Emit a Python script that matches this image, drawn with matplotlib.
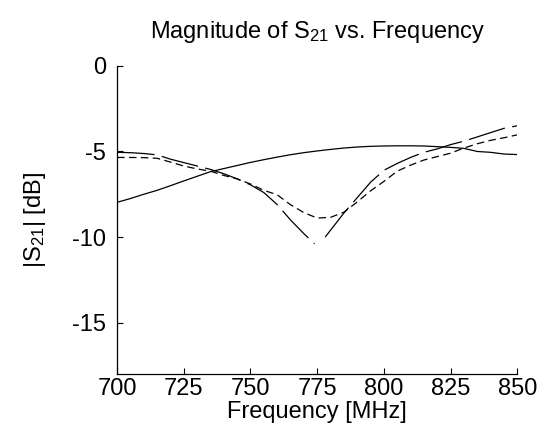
import numpy as np
import matplotlib
matplotlib.use("Agg")
import matplotlib.pyplot as plt

plt.rcParams['font.family'] = ['Liberation Sans', 'DejaVu Sans']
plt.rcParams['mathtext.fontset'] = 'custom'
plt.rcParams['mathtext.rm'] = 'Liberation Sans'
plt.rcParams['mathtext.it'] = 'Liberation Sans'

freq = [700, 705, 710, 715, 720, 725, 730, 735, 740, 745, 750, 755, 760, 765, 770,
        775, 780, 785, 790, 795, 800, 805, 810, 815, 820, 825, 830, 835, 840, 845, 850]

# solid, rising curve
s21_b = [-7.97, -7.75, -7.50, -7.27, -7.00, -6.72, -6.45, -6.18, -6.00, -5.82, -5.64,
         -5.48, -5.33, -5.19, -5.07, -4.97, -4.88, -4.80, -4.74, -4.70, -4.68, -4.67,
         -4.67, -4.68, -4.72, -4.76, -4.82, -5.00, -5.05, -5.15, -5.18]

# long-dash curve with deep notch
freq_a = [700, 705, 710, 715, 720, 725, 730, 735, 740, 745, 750, 755, 760, 765, 770, 774,
          776, 778, 780, 785, 790, 795, 800, 805, 810, 815, 820, 825, 830, 835, 840, 845, 850]
s21_a = [-5.05, -5.07, -5.12, -5.20, -5.45, -5.65, -5.85, -6.05, -6.30, -6.60, -6.95,
         -7.40, -8.10, -9.00, -9.80, -10.40, np.nan, -10.00, -9.60, -8.60, -7.70, -6.80,
         -6.10, -5.70, -5.35, -5.05, -4.85, -4.60, -4.40, -4.15, -3.90, -3.65, -3.50]

# dashed curve with shallow notch
s21_c = [-5.35, -5.35, -5.36, -5.40, -5.62, -5.85, -6.02, -6.15, -6.40, -6.60, -6.90,
         -7.27, -7.53, -8.11, -8.57, -8.89, -8.85, -8.55, -7.95, -7.30, -6.75, -6.15,
         -5.80, -5.50, -5.30, -5.10, -4.80, -4.55, -4.35, -4.20, -4.03]

xticks = [700, 725, 750, 775, 800, 825, 850]
yticks = [0, -5, -10, -15]

fig = plt.figure(figsize=(5.55, 4.25), dpi=100)
ax = fig.add_axes([0.211, 0.12, 0.721, 0.725])

ax.plot(freq, s21_b, color='black', lw=0.9, linestyle='-')
ax.plot(freq_a, s21_a, color='black', lw=0.9, linestyle=(0, (30, 6)))
ax.plot(freq, s21_c, color='black', lw=0.9, linestyle=(0, (6, 3.5)))

ax.set_xlim(700, 850)
ax.set_ylim(-18, 0)
ax.set_xticks(xticks)
ax.set_yticks(yticks)
ax.set_xticklabels([str(t) for t in xticks])
ax.set_yticklabels([str(t) for t in yticks])
ax.spines['top'].set_visible(False)
ax.spines['right'].set_visible(False)
ax.spines['left'].set_linewidth(0.9)
ax.spines['bottom'].set_linewidth(0.9)
ax.tick_params(axis='both', direction='in', length=4, width=0.8, labelsize=17)
ax.tick_params(axis='x', pad=3)
ax.tick_params(axis='y', pad=8)

ax.set_xlabel('Frequency [MHz]', fontsize=17)
ax.xaxis.set_label_coords(0.5, -0.124)
ax.xaxis.label.set_va('center')
ax.set_ylabel(r'|S$_{21}$| [dB]', fontsize=17, labelpad=17)
ax.set_title(r'Magnitude of S$_{21}$ vs. Frequency', fontsize=17, pad=20)

fig.savefig('out.png', dpi=100)
